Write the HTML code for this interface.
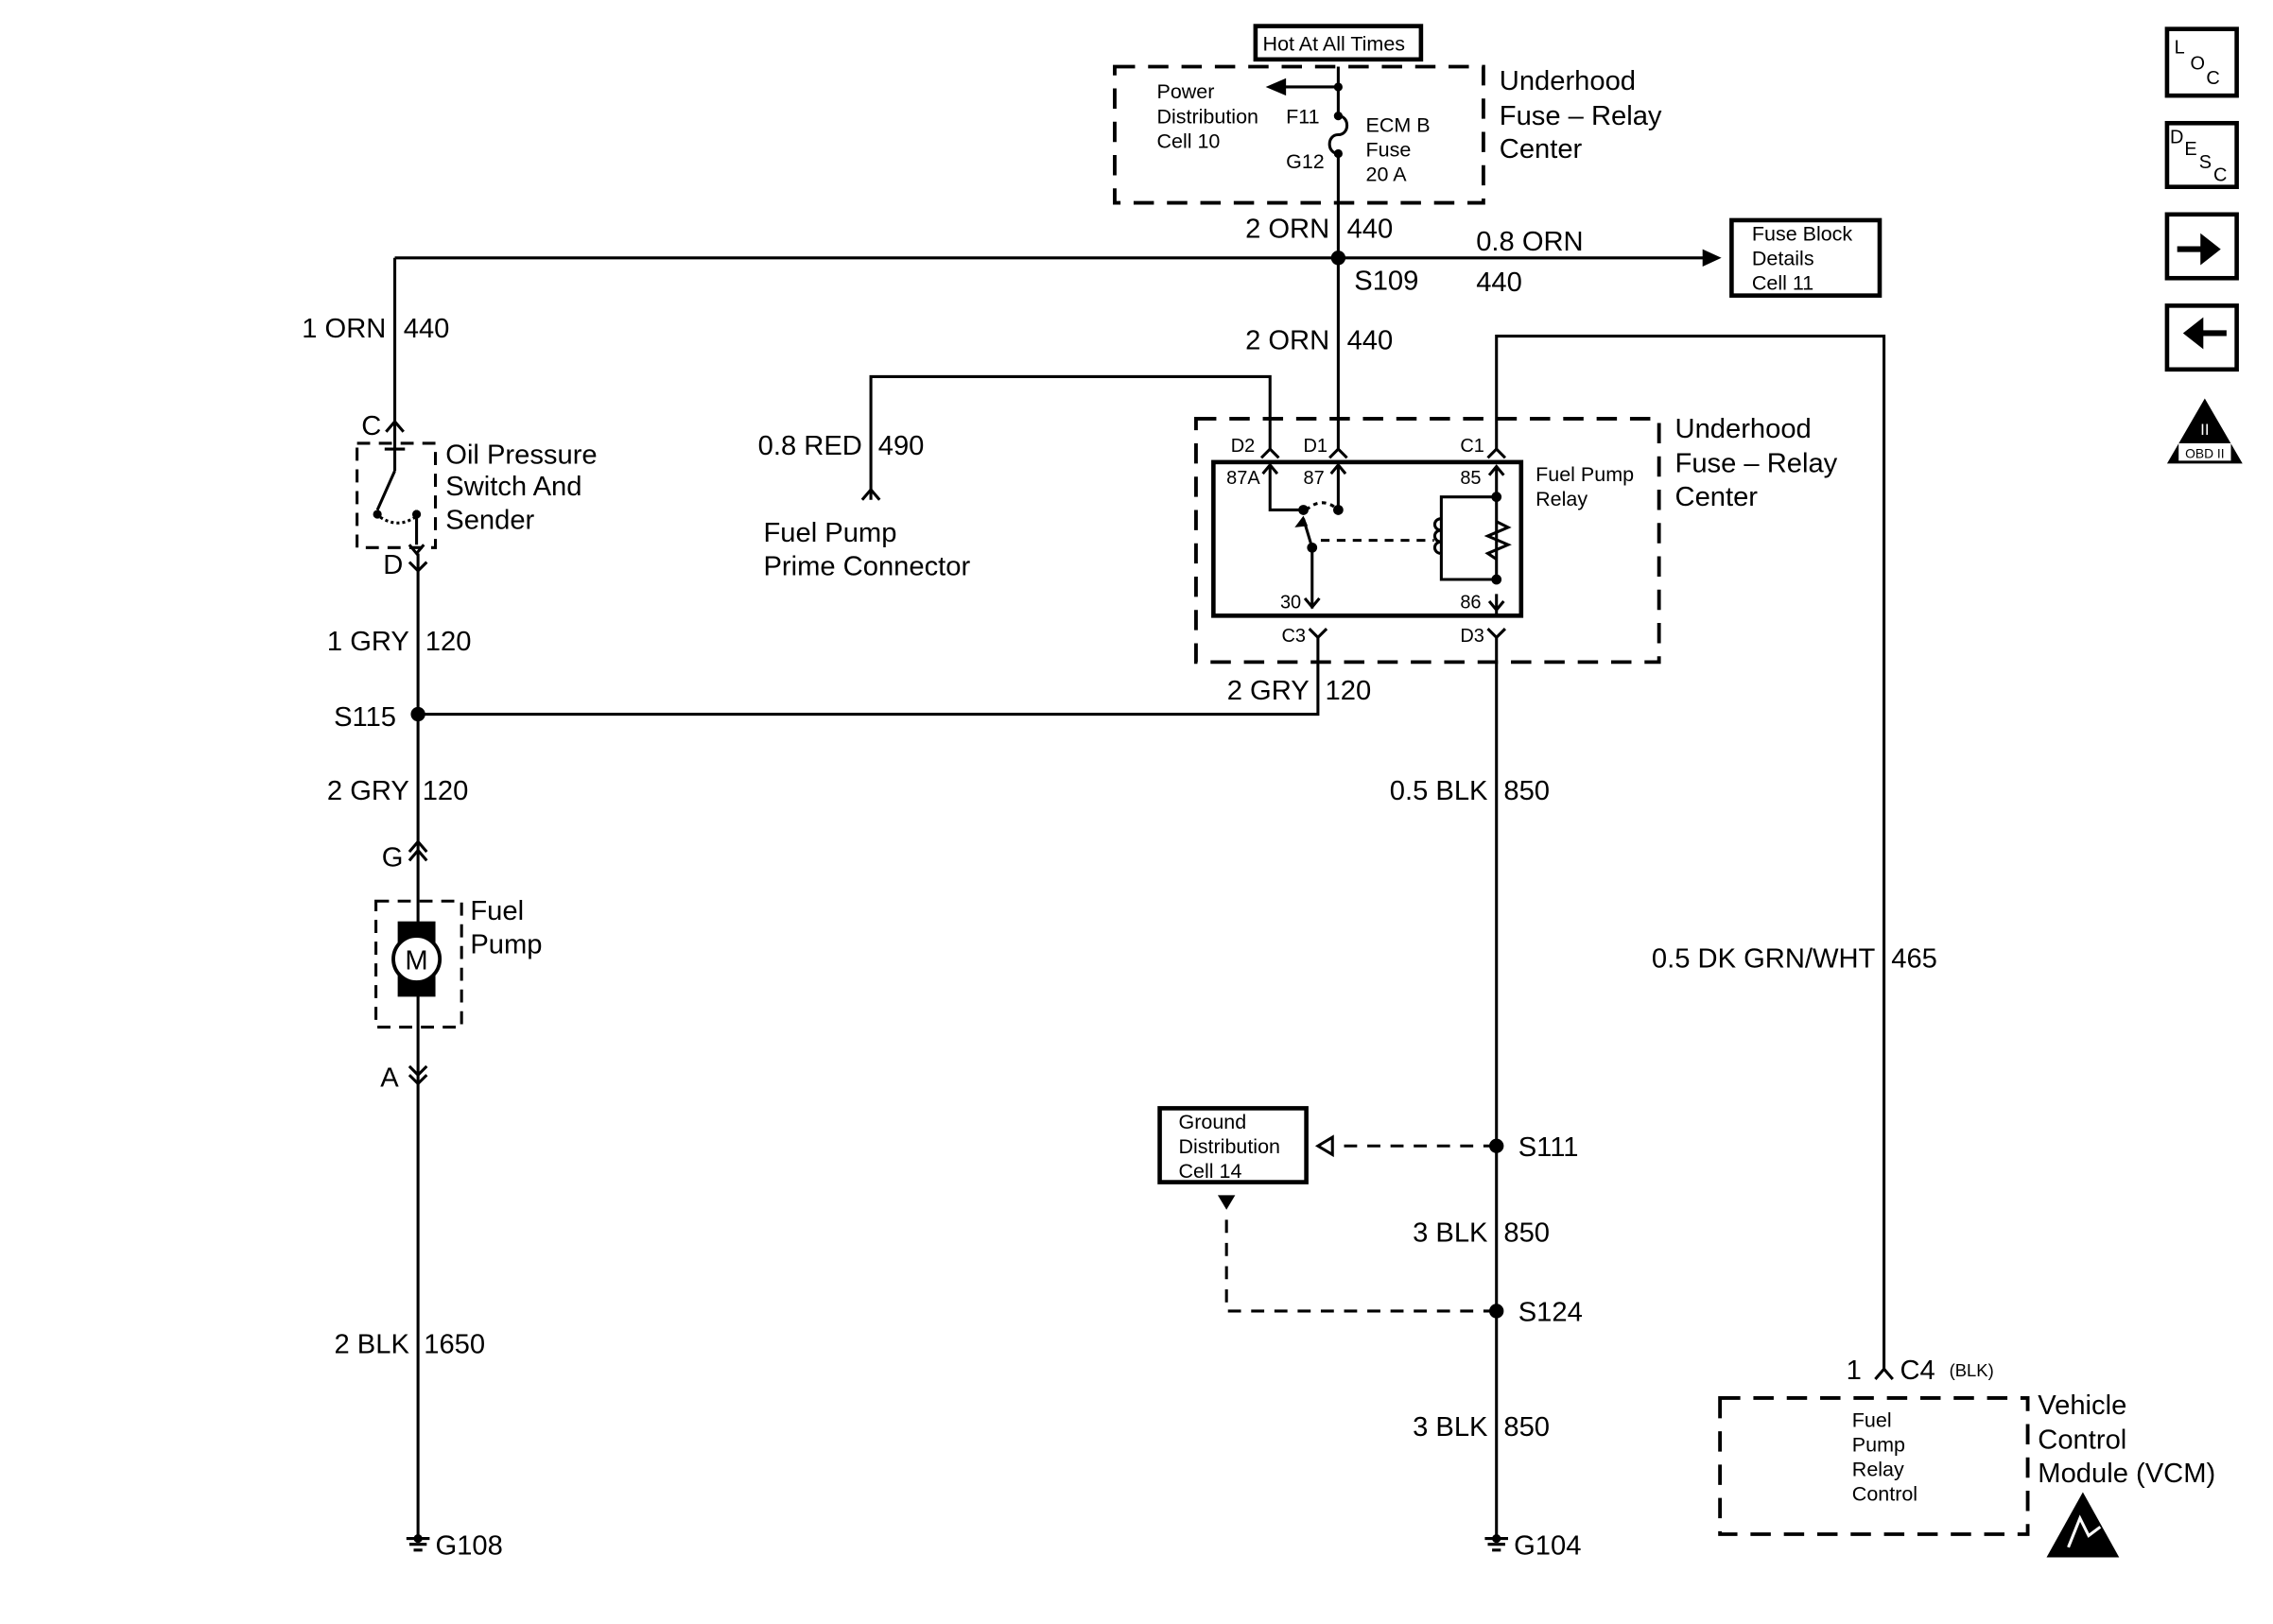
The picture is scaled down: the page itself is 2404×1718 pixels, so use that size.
<!DOCTYPE html>
<html><head><meta charset="utf-8"><style>
html,body{margin:0;padding:0;background:#fff;width:2404px;height:1718px;overflow:hidden}
svg{display:block}
text{font-family:"Liberation Sans",Arial,sans-serif;fill:#000}
.s{font-size:13px}.m{font-size:14px}.l{font-size:19px}
</style></head><body>
<svg width="2404" height="1718" viewBox="0 0 1566 1121" preserveAspectRatio="none" xmlns="http://www.w3.org/2000/svg">
<g stroke="#000" stroke-width="2" fill="none">
<rect x="865" y="18" width="114" height="23" stroke-width="3"/>
<rect x="768" y="46" width="254" height="94" stroke-width="2.5" stroke-dasharray="14,9"/>
<path d="M922 46V80M922 106V310"/>
<path d="M922 80c8 0 8 13 0 13c-8 0-8 13 0 13"/>
<path d="M922 60H884"/>
<path d="M272 178H1175M272 178V292"/>
<rect x="1193" y="152" width="102" height="52" stroke-width="3"/>
<path d="M600 345V260H875V310"/>
<path d="M594 345l6-7 6 7"/>
<rect x="246" y="306" width="54" height="72" stroke-dasharray="9,6"/>
<path d="M266 298l6-7 6 7M272 291V310M265 310h14M272 310V325M272 325L260 352M287 352V376M282 376l5 6 5-6M288 382V1060"/>
<path d="M262 357q12 8 24 0" stroke-dasharray="2,2"/>
<path d="M282 388l6 6 6-6"/>
<path d="M288 493H908V440"/>
<path d="M282 588l6-7 6 7M282 594l6-7 6 7"/>
<rect x="259" y="622" width="59" height="87" stroke-dasharray="9,6"/>
<path d="M282 736l6 6 6-6M282 742l6 6 6-6"/>
<rect x="824" y="289" width="319" height="168" stroke-width="2.5" stroke-dasharray="14,9"/>
<rect x="836" y="319" width="212" height="106" stroke-width="3"/>
<path d="M869 316l6-6 6 6M916 316l6-6 6 6M1025 316l6-6 6 6"/>
<path d="M875 321V352H898M870 327l5-6 5 6M922 321V352M917 327l5-6 5 6M1031 322V400M1026 328l5-6 5 6M1031 410V425M1026 415l5 6 5-6"/>
<path d="M904 378V420M899 413l5 6 5-6M904 378L898 358"/>
<path d="M900 352q11-10 22 0" stroke-dasharray="3,3"/>
<path d="M910 373H988" stroke-dasharray="6,5"/>
<path d="M1031 343H993V400H1031M993 358c-6 0-6 8 0 8c-6 0-6 8 0 8c-6 0-6 8 0 8"/>
<path d="M1031 360l8 4-14 6 14 6-14 6 6 4"/>
<path d="M902 434l6 6 6-6M1025 434l6 6 6-6"/>
<path d="M1031 440V1060"/>
<path d="M1031 310V232H1298V945"/>
<path d="M1292 952l6-7 6 7"/>
<rect x="799" y="765" width="101" height="51" stroke-width="3"/>
<path d="M1031 791H920M1031 905H845V838" stroke-dasharray="9,7"/>
<rect x="1185" y="965" width="212" height="94" stroke-width="2.5" stroke-dasharray="14,9"/>
<path d="M280 1062h16M282 1066h12M285 1070h6M1023 1062h16M1025 1066h12M1028 1070h6"/>
<rect x="1493" y="20" width="48" height="46" stroke-width="3"/>
<rect x="1493" y="85" width="48" height="44" stroke-width="3"/>
<rect x="1493" y="148" width="48" height="44" stroke-width="3"/>
<rect x="1493" y="211" width="48" height="44" stroke-width="3"/>
</g>
<g fill="#000">
<circle cx="922" cy="60" r="3"/><circle cx="922" cy="80" r="3"/><circle cx="922" cy="106" r="3"/>
<circle cx="922" cy="178" r="5"/><circle cx="288" cy="493" r="5"/>
<circle cx="1031" cy="791" r="5"/><circle cx="1031" cy="905" r="5"/>
<circle cx="260" cy="355" r="3"/><circle cx="287" cy="355" r="3"/>
<circle cx="898" cy="352" r="3.5"/><circle cx="922" cy="352" r="3.5"/><circle cx="904" cy="378" r="3.5"/>
<circle cx="1031" cy="343" r="3.5"/><circle cx="1031" cy="400" r="3.5"/>
<circle cx="288" cy="1062" r="3"/><circle cx="1031" cy="1062" r="3"/>
<path d="M872 60l14-6v12z"/>
<path d="M1186 178l-13-6v12z"/>
<path d="M898 356l-6 8 9-1z"/>
<path d="M908 791l10-6v12z" fill="none" stroke="#000" stroke-width="2"/>
<path d="M845 835l-6-10h12z"/>
<rect x="274" y="636" width="26" height="52"/>
<path d="M1500 170h16v-9l14 11-14 11v-9h-16z"/>
<path d="M1534 228h-16v-9l-14 11 14 11v-9h16z"/>
<path d="M1519 275l26 45h-52z"/>
<path d="M1435 1030l25 45h-50z"/>
</g>
<circle cx="287" cy="662" r="16" fill="#fff" stroke="#000" stroke-width="2.5"/>
<text x="287" y="669" class="l" text-anchor="middle">M</text>
<rect x="1501" y="306" width="36" height="12" fill="#fff"/>
<text x="1519" y="316" font-size="9" text-anchor="middle">OBD II</text>
<text x="1519" y="300" font-size="11" text-anchor="middle" style="fill:#fff">II</text>
<path d="M1425 1068l8-20 6 12 8-6" stroke="#fff" stroke-width="2" fill="none"/>

<text x="870" y="35" class="m">Hot At All Times</text>
<text x="797" y="68" class="m">Power</text><text x="797" y="85" class="m">Distribution</text><text x="797" y="102" class="m">Cell 10</text>
<text x="886" y="85" class="m">F11</text><text x="886" y="116" class="m">G12</text>
<text x="941" y="91" class="m">ECM B</text><text x="941" y="108" class="m">Fuse</text><text x="941" y="125" class="m">20 A</text>
<text x="1033" y="62" class="l">Underhood</text><text x="1033" y="86" class="l">Fuse – Relay</text><text x="1033" y="109" class="l">Center</text>
<text x="916" y="164" class="l" text-anchor="end">2 ORN</text><text x="928" y="164" class="l">440</text>
<text x="1017" y="173" class="l">0.8 ORN</text><text x="933" y="200" class="l">S109</text><text x="1017" y="201" class="l">440</text>
<text x="1207" y="166" class="m">Fuse Block</text><text x="1207" y="183" class="m">Details</text><text x="1207" y="200" class="m">Cell 11</text>
<text x="916" y="241" class="l" text-anchor="end">2 ORN</text><text x="928" y="241" class="l">440</text>
<text x="266" y="233" class="l" text-anchor="end">1 ORN</text><text x="278" y="233" class="l">440</text>
<text x="249" y="300" class="l">C</text>
<text x="307" y="320" class="l">Oil Pressure</text><text x="307" y="342" class="l">Switch And</text><text x="307" y="365" class="l">Sender</text>
<text x="264" y="396" class="l">D</text>
<text x="282" y="449" class="l" text-anchor="end">1 GRY</text><text x="293" y="449" class="l">120</text>
<text x="230" y="501" class="l">S115</text>
<text x="282" y="552" class="l" text-anchor="end">2 GRY</text><text x="291" y="552" class="l">120</text>
<text x="263" y="598" class="l">G</text>
<text x="324" y="635" class="l">Fuel</text><text x="324" y="658" class="l">Pump</text>
<text x="262" y="750" class="l">A</text>
<text x="282" y="934" class="l" text-anchor="end">2 BLK</text><text x="292" y="934" class="l">1650</text>
<text x="300" y="1073" class="l">G108</text>
<text x="594" y="314" class="l" text-anchor="end">0.8 RED</text><text x="605" y="314" class="l">490</text>
<text x="526" y="374" class="l">Fuel Pump</text><text x="526" y="397" class="l">Prime Connector</text>
<text x="848" y="312" class="s">D2</text><text x="898" y="312" class="s">D1</text><text x="1006" y="312" class="s">C1</text>
<text x="845" y="334" class="s">87A</text><text x="898" y="334" class="s">87</text><text x="1006" y="334" class="s">85</text>
<text x="882" y="420" class="s">30</text><text x="1006" y="420" class="s">86</text>
<text x="883" y="443" class="s">C3</text><text x="1006" y="443" class="s">D3</text>
<text x="1058" y="332" class="m">Fuel Pump</text><text x="1058" y="349" class="m">Relay</text>
<text x="1154" y="302" class="l">Underhood</text><text x="1154" y="326" class="l">Fuse – Relay</text><text x="1154" y="349" class="l">Center</text>
<text x="902" y="483" class="l" text-anchor="end">2 GRY</text><text x="913" y="483" class="l">120</text>
<text x="1025" y="552" class="l" text-anchor="end">0.5 BLK</text><text x="1036" y="552" class="l">850</text>
<text x="1292" y="668" class="l" text-anchor="end">0.5 DK GRN/WHT</text><text x="1303" y="668" class="l">465</text>
<text x="812" y="779" class="m">Ground</text><text x="812" y="796" class="m">Distribution</text><text x="812" y="813" class="m">Cell 14</text>
<text x="1046" y="798" class="l">S111</text>
<text x="1025" y="857" class="l" text-anchor="end">3 BLK</text><text x="1036" y="857" class="l">850</text>
<text x="1046" y="912" class="l">S124</text>
<text x="1025" y="991" class="l" text-anchor="end">3 BLK</text><text x="1036" y="991" class="l">850</text>
<text x="1043" y="1073" class="l">G104</text>
<text x="1272" y="952" class="l">1</text><text x="1309" y="952" class="l">C4</text><text x="1343" y="950" font-size="12">(BLK)</text>
<text x="1276" y="985" class="m">Fuel</text><text x="1276" y="1002" class="m">Pump</text><text x="1276" y="1019" class="m">Relay</text><text x="1276" y="1036" class="m">Control</text>
<text x="1404" y="976" class="l">Vehicle</text><text x="1404" y="1000" class="l">Control</text><text x="1404" y="1023" class="l">Module (VCM)</text>
<text x="1498" y="37" class="s">L</text><text x="1509" y="48" class="s">O</text><text x="1520" y="58" class="s">C</text>
<text x="1495" y="99" class="s">D</text><text x="1505" y="107" class="s">E</text><text x="1515" y="116" class="s">S</text><text x="1525" y="125" class="s">C</text>
</svg>
</body></html>
